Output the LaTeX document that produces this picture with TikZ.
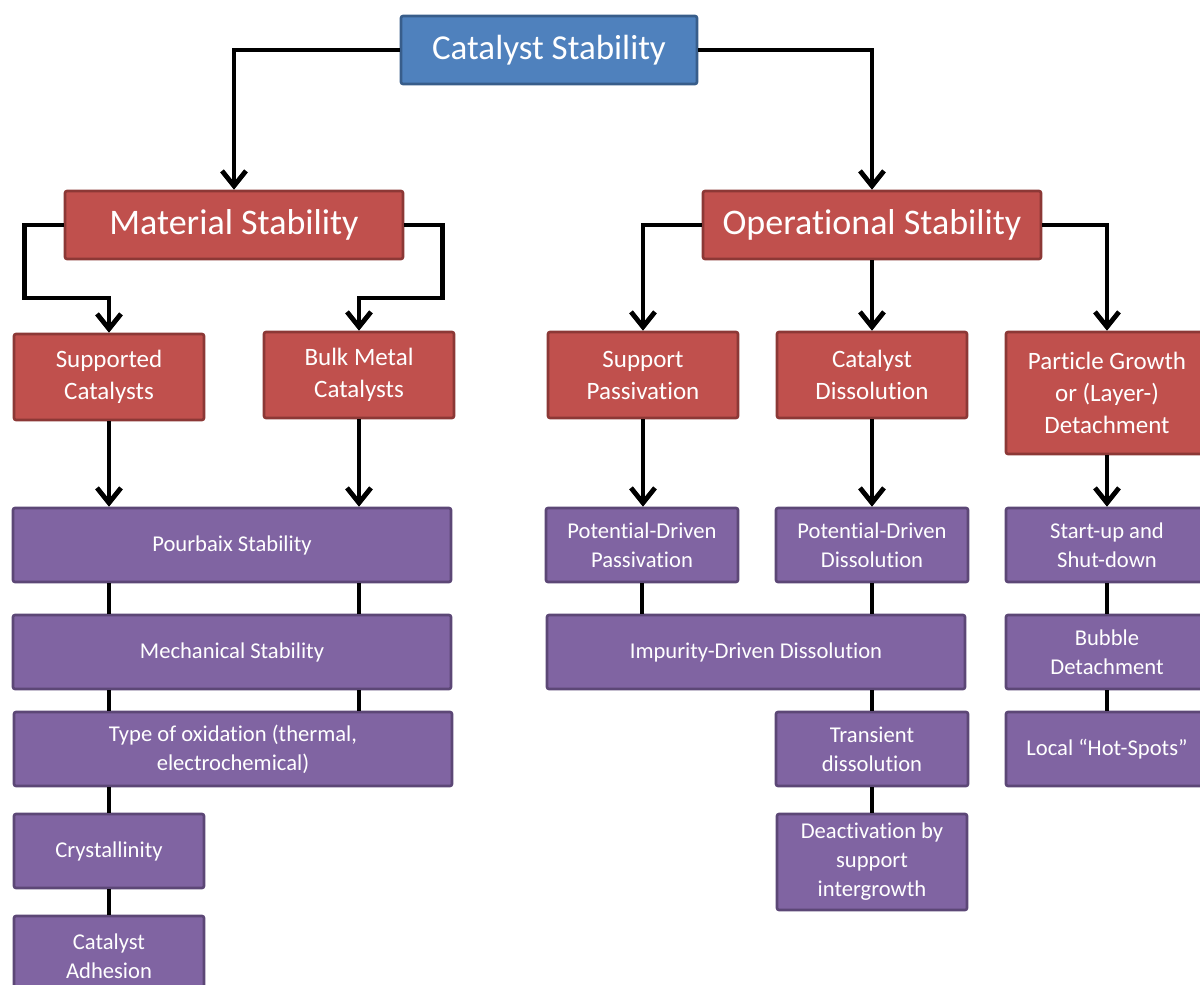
\documentclass[tikz,border=0pt]{standalone}
\usepackage{fontspec}
\setmainfont{Carlito}[Ligatures={NoCommon}]
\usetikzlibrary{positioning,arrows.meta}
\definecolor{topblue}{HTML}{4F81BD}
\definecolor{topblueline}{HTML}{385D8A}
\definecolor{catred}{HTML}{C0504D}
\definecolor{catredline}{HTML}{8C3836}
\definecolor{subviolet}{HTML}{8064A2}
\definecolor{subvioletline}{HTML}{5C4776}
\tikzset{
lnk/.style={line width=2.4pt,draw=black},
arr/.style={lnk,-{Straight Barb[length=7.5pt,width=12pt,line width=2.4pt]}},
box/.style={rectangle,draw,line width=1.3pt,rounded corners=1pt,text=white,align=center,inner sep=2pt},
topbox/.style={box,fill=topblue,draw=topblueline,font=\fontsize{17.5}{21}\selectfont},
midbox/.style={box,fill=catred,draw=catredline,font=\fontsize{18}{21}\selectfont},
redbox/.style={box,fill=catred,draw=catredline,font=\fontsize{12.5}{16}\selectfont},
vbox/.style={box,fill=subviolet,draw=subvioletline,font=\fontsize{11.3}{14.5}\selectfont},
}

\begin{document}
\begin{tikzpicture}[x=0.5pt,y=-0.5pt]
\useasboundingbox (0,0) rectangle (1200,985);
\node[topbox,minimum width=148pt,minimum height=34pt] (cs) at (549,50) {Catalyst Stability};
\node[midbox,minimum width=169pt,minimum height=34pt] (ms) at (234,225) {Material Stability};
\node[midbox,minimum width=169pt,minimum height=34pt] (os) at (872,225) {Operational Stability};

\node[redbox,minimum width=95pt,minimum height=43pt] (sup) at (109,377) {Supported\\Catalysts};
\node[redbox,minimum width=95pt,minimum height=43pt] (bulk) at (359,375) {Bulk Metal\\Catalysts};
\node[redbox,minimum width=95pt,minimum height=43pt] (spas) at (643,375) {Support\\Passivation};
\node[redbox,minimum width=95pt,minimum height=43pt] (cdis) at (872,375) {Catalyst\\Dissolution};
\node[redbox,minimum width=101pt,minimum height=61pt] (pgro) at (1107,393) {Particle Growth\\or (Layer-)\\Detachment};

% material side
\node[vbox,minimum width=219pt,minimum height=37pt] (pour) at (232,545) {Pourbaix Stability};
\node[vbox,minimum width=219pt,minimum height=37pt] (mech) at (232,652) {Mechanical Stability};
\node[vbox,minimum width=219pt,minimum height=37pt] (oxid) at (233,749) {Type of oxidation (thermal,\\electrochemical)};
\node[vbox,minimum width=95pt,minimum height=37pt] (cryst) at (109,851) {Crystallinity};
\node[vbox,minimum width=95pt,minimum height=40pt] (adh) at (109,956) {Catalyst\\Adhesion};

% operational side
\node[vbox,minimum width=96pt,minimum height=37pt] (pdpas) at (642,545) {Potential-Driven\\Passivation};
\node[vbox,minimum width=96pt,minimum height=37pt] (pddis) at (872,545) {Potential-Driven\\Dissolution};
\node[vbox,minimum width=209pt,minimum height=37pt] (impd) at (756,652) {Impurity-Driven Dissolution};
\node[vbox,minimum width=96pt,minimum height=37pt] (trans) at (872,749) {Transient\\dissolution};
\node[vbox,minimum width=95pt,minimum height=48pt] (deact) at (872,862) {Deactivation by\\support\\intergrowth};
\node[vbox,minimum width=101pt,minimum height=37pt] (start) at (1107,545) {Start-up and\\Shut-down};
\node[vbox,minimum width=101pt,minimum height=37pt] (bubb) at (1107,652) {Bubble\\Detachment};
\node[vbox,minimum width=101pt,minimum height=37pt] (hots) at (1107,749) {Local ``Hot-Spots''};

\draw[arr] (cs.west) -| (ms.north);
\draw[arr] (cs.east) -| (os.north);
\draw[arr] (ms.west) -- ++(-39,0) -- ++(0,73) -| (sup.north);
\draw[arr] (ms.east) -- ++(38,0) -- ++(0,73) -| (bulk.north);
\draw[arr] (os.west) -| (spas.north);
\draw[arr] (os.south) -- (cdis.north);
\draw[arr] (os.east) -| (pgro.north);

\draw[arr] (sup.south) -- (sup.south |- pour.north);
\draw[arr] (bulk.south) -- (bulk.south |- pour.north);
\draw[arr] (spas.south) -- (spas.south |- pdpas.north);
\draw[arr] (cdis.south) -- (pddis.north);
\draw[arr] (pgro.south) -- (start.north);

\draw[lnk] (sup.south |- pour.south) -- (sup.south |- mech.north);
\draw[lnk] (bulk.south |- pour.south) -- (bulk.south |- mech.north);
\draw[lnk] (sup.south |- mech.south) -- (sup.south |- oxid.north);
\draw[lnk] (bulk.south |- mech.south) -- (bulk.south |- oxid.north);
\draw[lnk] (cryst.north |- oxid.south) -- (cryst.north);
\draw[lnk] (cryst.south) -- (adh.north);

\draw[lnk] (pdpas.south) -- (pdpas.south |- impd.north);
\draw[lnk] (pddis.south) -- (pddis.south |- impd.north);
\draw[lnk] (trans.north |- impd.south) -- (trans.north);
\draw[lnk] (trans.south) -- (deact.north);
\draw[lnk] (start.south) -- (bubb.north);
\draw[lnk] (bubb.south) -- (hots.north);
\end{tikzpicture}
\end{document}
